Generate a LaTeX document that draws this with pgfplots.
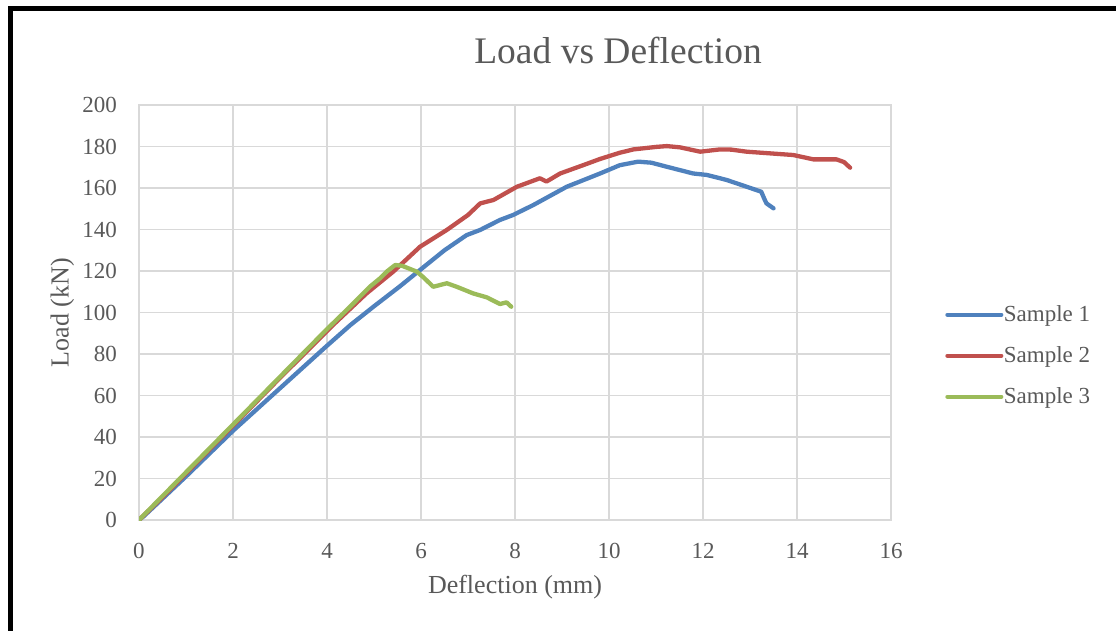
\documentclass[border=0pt]{standalone}
\usepackage{pgfplots}
\pgfplotsset{compat=1.18}
\usepackage{pgfplotstable}
\usepackage{fontspec}
\setmainfont{Liberation Serif}
\definecolor{sblue}{HTML}{4F81BD}
\definecolor{sred}{HTML}{C0504D}
\definecolor{sgreen}{HTML}{9BBB59}
\definecolor{gridc}{HTML}{D9D9D9}
\definecolor{textc}{HTML}{595959}

\pgfplotstableread{
x y
0 0
0.1 1.8
0.5 10.3
1 21
2 43
3 63.5
4 84
4.5 94
5 103
5.55 112.6
5.98 120.5
6.5 130
6.97 137.3
7.26 139.8
7.68 144.6
7.96 147
8.39 151.8
9.1 160.6
9.81 167
10.23 171
10.62 172.7
10.9 172.2
11.22 170.3
11.79 167
12.08 166.3
12.5 163.9
12.93 160.6
13.24 158.2
13.3 155
13.35 152.6
13.5 150.2
}\sampleone

\pgfplotstableread{
x y
0 0
0.5 11
1 22.5
2 45.5
3 68.5
4 91
4.13 94
4.84 109.2
5.41 119.7
5.98 131.7
6.55 139.8
7.0 147
7.26 152.6
7.54 154.2
8.04 160.6
8.53 164.7
8.67 163.1
8.96 167
9.45 171
9.81 174
10.23 177
10.52 178.6
11.0 179.8
11.23 180.2
11.51 179.6
11.94 177.5
12.36 178.6
12.6 178.5
12.93 177.5
13.92 175.9
14.35 173.8
14.84 173.8
15.0 172.5
15.13 169.8
}\sampletwo

\pgfplotstableread{
x y
0 0
0.5 11.5
1 23
2 46
3 69
4 92
4.5 103
4.91 112.4
5.13 116.5
5.27 119.7
5.45 122.9
5.6 122.5
5.91 119.7
6.05 117
6.26 112.4
6.55 114.1
6.76 112.4
7.11 109.2
7.4 107.3
7.68 104.1
7.82 104.9
7.92 102.8
}\samplethree

\begin{document}
\begin{tikzpicture}
\useasboundingbox (0pt,0pt) rectangle (1116pt,-630pt);
\draw[line width=5pt] (10pt,-640pt) -- (10pt,-8.5pt) -- (1130pt,-8.5pt);
\begin{axis}[
  at={(139pt,-520pt)}, anchor=south west,
  width=752pt, height=415pt, scale only axis,
  xmin=0, xmax=16, ymin=0, ymax=200,
  xtick={0,2,...,16}, ytick={0,20,...,200},
  grid=major,
  major grid style={draw=gridc, line width=1.3pt},
  axis line style={draw=gridc, line width=1.3pt},
  tick style={draw=none}, major tick length=0pt,
  /pgf/number format/assume math mode=true,
  ticklabel style={font=\fontsize{23}{23}\selectfont, text=textc},
  xticklabel style={anchor=north, inner sep=0pt, yshift=-23pt},
  yticklabel style={anchor=east, inner sep=0pt, xshift=-22pt},
  title={Load vs Deflection},
  title style={at={(axis description cs:0.637,1.116)}, anchor=center, font=\fontsize{37.5}{37.5}\selectfont, text=textc},
  xlabel={Deflection (mm)},
  xlabel style={at={(axis description cs:0.5,-0.161)}, anchor=center, font=\fontsize{26}{26}\selectfont, text=textc},
  ylabel={Load (kN)},
  ylabel style={at={(axis description cs:-0.102,0.5)}, anchor=center, font=\fontsize{26}{26}\selectfont, text=textc},
  legend style={at={(axis description cs:1.072,0.396)}, anchor=west, draw=none, fill=none,
    font=\fontsize{23}{23}\selectfont, text=textc, row sep=22.5pt, inner sep=0pt,
    nodes={inner sep=0.5pt}},
  legend cell align=left,
  legend image code/.code={\draw[#1, line width=4pt, line cap=round] (0pt,0pt) -- (54pt,0pt);},
  every axis plot/.append style={line width=4.3pt, line join=round, line cap=round, no markers},
]
\addplot[sblue] table {\sampleone};
\addlegendentry{Sample 1}
\addplot[sred] table {\sampletwo};
\addlegendentry{Sample 2}
\addplot[sgreen] table {\samplethree};
\addlegendentry{Sample 3}
\end{axis}
\end{tikzpicture}
\end{document}
